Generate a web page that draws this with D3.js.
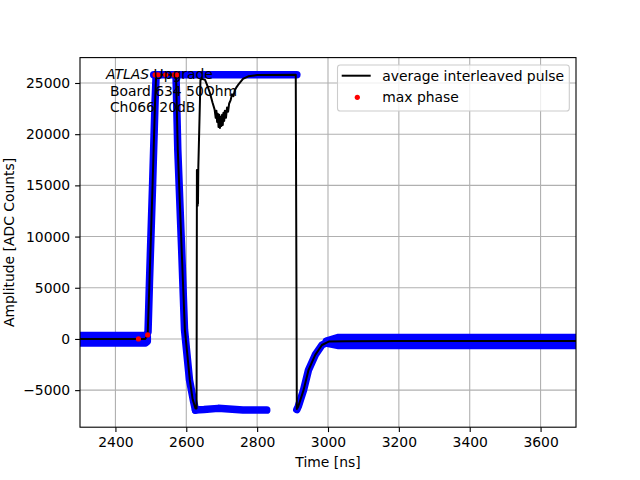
<!DOCTYPE html>
<html><head><meta charset="utf-8">
<script src="https://cdn.jsdelivr.net/npm/d3@7"></script>
<style>body{margin:0;background:#fff} text{font-family:"DejaVu Sans",sans-serif}</style>
</head><body><svg id="c" width="640" height="480"></svg>
<script>
// ---- data ----
const xTicks = [2400, 2600, 2800, 3000, 3200, 3400, 3600];
const yTicks = [-5000, 0, 5000, 10000, 15000, 20000, 25000];
const xDomain = [2300, 3700];
const yDomain = [-8620, 27480];

// average interleaved pulse (black line)
const avgTime = [2300, 2484, 2491, 2496, 2505, 2512, 2515, 2571, 2576, 2587, 2596, 2610, 2618, 2626, 2629,
  2630, 2632, 2632.5, 2633, 2634, 2640, 2644, 2653, 2660, 2667, 2674, 2680, 2683, 2685, 2687, 2689, 2691, 2693,
  2695, 2697, 2699, 2701, 2703, 2705, 2707, 2709, 2712, 2715, 2718, 2721, 2725, 2729, 2733, 2737, 2742, 2748,
  2760, 2775, 2800, 2909, 2912, 2916, 2931, 2945, 2964, 2983, 3002, 3050, 3200, 3400, 3700];
const avgAmp = [0, 0, 390, 5470, 15200, 23300, 25800, 25800, 18500, 8700, 900, -4000, -5900, -6800, -6800,
  16500, 13000, 16500, 13200, 16800, 25300, 25400, 25300, 24700, 24000, 23100, 22400, 21600, 22300, 21200, 22000, 20700, 21900,
  20600, 21700, 20800, 21900, 20900, 22100, 21300, 22300, 21600, 22600, 22200, 23000, 23300, 23900, 23700, 24300, 24600, 24900,
  25400, 25650, 25780, 25800, -6850, -6600, -5000, -3030, -1560, -590, -260, -220, -200, -200, -200];

// interleaved samples (blue), branches
const baseLeftTime = [2300, 2485, 2490];
const baseLeftHigh = [340, 340, 250];
const baseLeftLow = [-400, -400, -250];
const baseRightTime = [2995, 3030, 3700];
const baseRightHigh = [-200, 150, 150];
const baseRightLow = [-400, -650, -650];
const riseTime = [2483, 2492, 2496, 2505, 2512, 2515];
const riseAmp = [0, 680, 5470, 15200, 23300, 25800];
const topTime = [2508, 2912];
const topAmp = [25800, 25800];
const fallTime = [2571, 2576, 2587, 2595, 2609, 2620, 2626];
const fallAmp = [25800, 18500, 8700, 900, -4000, -6000, -6950];
const bottomTime = [2626, 2650, 2690, 2720, 2760, 2827];
const bottomAmp = [-6950, -6900, -6780, -6850, -6930, -6950];
const recoverTime = [2912, 2916, 2931, 2945, 2964, 2983, 3002, 3010];
const recoverAmp = [-6900, -6600, -5000, -3030, -1560, -590, -260, -230];

// max phase (red points)
const maxPhaseTime = [2465, 2491, 2512, 2520, 2542, 2565, 2574];
const maxPhaseAmp = [0, 390, 25800, 25800, 25800, 25800, 25800];

// ---- chart ----
const svg = d3.select('#c');
const L = 80, R = 576, T = 57.6, B = 427.2;
const x = d3.scaleLinear().domain(xDomain).range([L, R]);
const y = d3.scaleLinear().domain(yDomain).range([B, T]);
const fmt = d3.format('d');

svg.append('defs').append('clipPath').attr('id', 'clip')
  .append('rect').attr('x', L).attr('y', T).attr('width', R - L).attr('height', B - T);

// grid
const grid = svg.append('g');
grid.selectAll('.gx').data(xTicks).enter().append('line')
  .attr('x1', d => x(d)).attr('x2', d => x(d)).attr('y1', T).attr('y2', B)
  .attr('stroke', '#b0b0b0').attr('stroke-width', 1.1);
grid.selectAll('.gy').data(yTicks).enter().append('line')
  .attr('y1', d => y(d)).attr('y2', d => y(d)).attr('x1', L).attr('x2', R)
  .attr('stroke', '#b0b0b0').attr('stroke-width', 1.1);

const plot = svg.append('g').attr('clip-path', 'url(#clip)');
const zip = (a, b) => a.map((v, i) => [v, b[i]]);
const line = d3.line().x(d => x(d[0])).y(d => y(d[1]));
const area = d3.area().x(d => x(d[0])).y0(d => y(d[2])).y1(d => y(d[1]));

const blue = '#0000ff';
const bandStroke = 7.5;
// baseline bands
[[baseLeftTime, baseLeftHigh, baseLeftLow], [baseRightTime, baseRightHigh, baseRightLow]].forEach(([t, h, l]) => {
  const pts = t.map((v, i) => [v, h[i], l[i]]);
  plot.append('path').attr('d', area(pts)).attr('fill', blue)
    .attr('stroke', blue).attr('stroke-width', bandStroke).attr('stroke-linejoin', 'round');
});
[[riseTime, riseAmp], [topTime, topAmp], [fallTime, fallAmp], [bottomTime, bottomAmp], [recoverTime, recoverAmp]]
  .forEach(([t, a]) => {
    plot.append('path').attr('d', line(zip(t, a))).attr('fill', 'none')
      .attr('stroke', blue).attr('stroke-width', bandStroke)
      .attr('stroke-linecap', 'round').attr('stroke-linejoin', 'round');
  });

// average pulse
plot.append('path').attr('d', line(zip(avgTime, avgAmp))).attr('fill', 'none')
  .attr('stroke', '#000').attr('stroke-width', 2).attr('stroke-linejoin', 'round');

// max phase
plot.selectAll('.mp').data(zip(maxPhaseTime, maxPhaseAmp)).enter().append('circle')
  .attr('cx', d => x(d[0])).attr('cy', d => y(d[1])).attr('r', 2.6).attr('fill', '#ff0000');

// annotation text
const ann = svg.append('text').attr('x', 106).attr('y', 79).attr('font-size', 13.9).attr('fill', '#000');
ann.append('tspan').attr('font-style', 'italic').text('ATLAS');
ann.append('tspan').text(' Upgrade');
svg.append('text').attr('x', 105.5).attr('y', 95.7).attr('font-size', 13.9).attr('xml:space', 'preserve').text(' Board 634 50Ohm');
svg.append('text').attr('x', 105.5).attr('y', 111.7).attr('font-size', 13.9).attr('xml:space', 'preserve').text(' Ch066 20dB');

// axes
const xAxis = d3.axisBottom(x).tickValues(xTicks).tickFormat(fmt).tickSizeInner(4.9).tickSizeOuter(0).tickPadding(4.9);
const yAxis = d3.axisLeft(y).tickValues(yTicks).tickFormat(fmt).tickSizeInner(4.9).tickSizeOuter(0).tickPadding(4.9);
const gx = svg.append('g').attr('transform', `translate(0,${B})`).call(xAxis);
const gy = svg.append('g').attr('transform', `translate(${L},0)`).call(yAxis);
[gx, gy].forEach(g => {
  g.select('.domain').remove();
  g.selectAll('line').attr('stroke', '#000').attr('stroke-width', 1.1);
  g.selectAll('text').attr('font-size', 13.9).attr('fill', '#000').attr('font-family', '"DejaVu Sans",sans-serif');
});
svg.append('rect').attr('x', L).attr('y', T).attr('width', R - L).attr('height', B - T)
  .attr('fill', 'none').attr('stroke', '#000').attr('stroke-width', 1.1);

svg.append('text').attr('x', (L + R) / 2).attr('y', 467).attr('text-anchor', 'middle')
  .attr('font-size', 13.9).text('Time [ns]');
svg.append('text').attr('transform', `translate(14,${(T + B) / 2}) rotate(-90)`).attr('text-anchor', 'middle')
  .attr('font-size', 13.9).text('Amplitude [ADC Counts]');

// legend
const lg = svg.append('g');
lg.append('rect').attr('x', 337.5).attr('y', 65).attr('width', 231.8).attr('height', 46).attr('rx', 2.8)
  .attr('fill', '#fff').attr('fill-opacity', 0.8).attr('stroke', '#cccccc').attr('stroke-width', 1.1);
lg.append('line').attr('x1', 341.7).attr('x2', 370.7).attr('y1', 75.7).attr('y2', 75.7)
  .attr('stroke', '#000').attr('stroke-width', 2);
lg.append('text').attr('x', 382.3).attr('y', 80.7).attr('font-size', 13.9).text('average interleaved pulse');
lg.append('circle').attr('cx', 357.3).attr('cy', 97.3).attr('r', 2.6).attr('fill', '#ff0000');
lg.append('text').attr('x', 382.3).attr('y', 102.3).attr('font-size', 13.9).text('max phase');
</script></body></html>
